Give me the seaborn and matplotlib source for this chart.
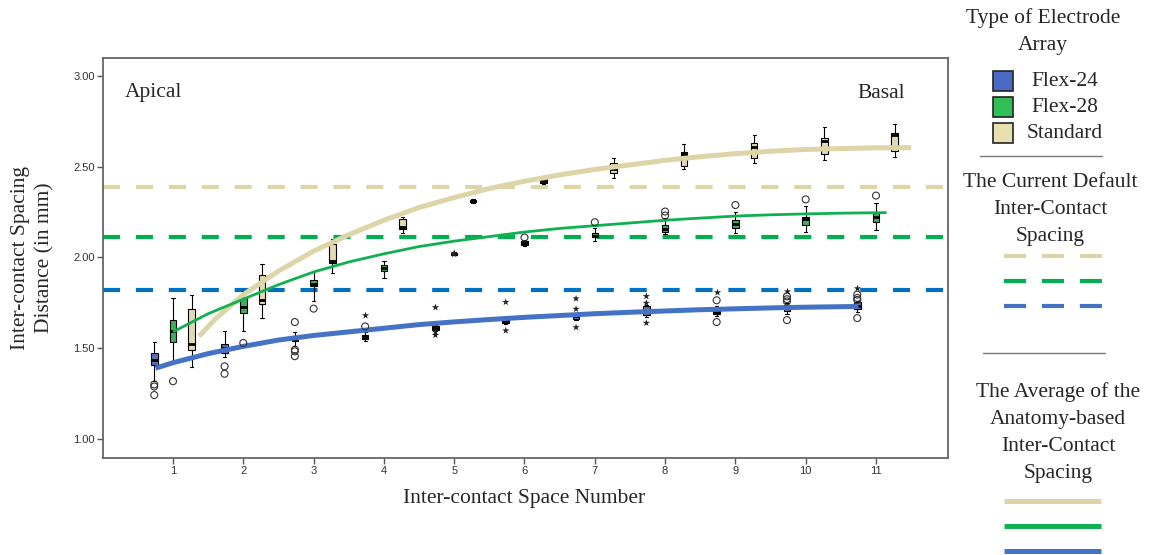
import numpy as np
import pandas as pd
import matplotlib
matplotlib.use("Agg")
import matplotlib.pyplot as plt
import seaborn as sns
from matplotlib.lines import Line2D
from matplotlib.patches import Rectangle

# ---------------- data ----------------
categories = [1, 2, 3, 4, 5, 6, 7, 8, 9, 10, 11]
types = ["Flex-24", "Flex-28", "Standard"]

# box summaries per space: (low whisker, Q1, median, Q3, high whisker)
flex24_box = [
    (1.32, 1.41, 1.437, 1.474, 1.535),
    (1.45, 1.474, 1.50, 1.524, 1.597),
    (1.51, 1.538, 1.547, 1.566, 1.588),
    (1.54, 1.55, 1.56, 1.575, 1.59),
    (1.597, 1.603, 1.612, 1.625, 1.63),
    (1.635, 1.639, 1.648, 1.657, 1.662),
    (1.655, 1.663, 1.675, 1.685, 1.695),
    (1.67, 1.685, 1.70, 1.731, 1.74),
    (1.68, 1.688, 1.70, 1.721, 1.73),
    (1.69, 1.703, 1.72, 1.74, 1.75),
    (1.70, 1.718, 1.735, 1.754, 1.76),
]
flex28_box = [
    (1.43, 1.535, 1.597, 1.657, 1.776),
    (1.593, 1.694, 1.725, 1.776, 1.813),
    (1.758, 1.841, 1.853, 1.877, 1.923),
    (1.886, 1.926, 1.941, 1.959, 1.981),
    (2.012, 2.016, 2.02, 2.024, 2.028),
    (2.065, 2.069, 2.078, 2.088, 2.095),
    (2.09, 2.11, 2.12, 2.134, 2.16),
    (2.128, 2.143, 2.157, 2.179, 2.216),
    (2.133, 2.161, 2.185, 2.207, 2.253),
    (2.139, 2.179, 2.21, 2.225, 2.286),
    (2.152, 2.194, 2.225, 2.243, 2.298),
]
standard_box = [
    (1.397, 1.492, 1.524, 1.718, 1.795),
    (1.667, 1.743, 1.764, 1.904, 1.965),
    (1.914, 1.969, 1.978, 2.073, 2.102),
    (2.133, 2.157, 2.17, 2.212, 2.225),
    (2.30, 2.304, 2.31, 2.317, 2.32),
    (2.405, 2.408, 2.42, 2.436, 2.44),
    (2.44, 2.463, 2.49, 2.518, 2.55),
    (2.487, 2.505, 2.57, 2.579, 2.623),
    (2.518, 2.546, 2.61, 2.628, 2.677),
    (2.536, 2.568, 2.64, 2.659, 2.718),
    (2.555, 2.586, 2.677, 2.687, 2.738),
]

# outliers (open circles) and extreme values (stars)
circle_space = [1, 1, 1, 2, 2, 3, 3, 3, 3, 4, 9, 9, 10, 10, 10, 10, 11, 11, 11, 11,
                1, 2, 3, 6, 7, 8, 8, 9, 10, 11]
circle_type = ["Flex-24"] * 20 + ["Flex-28"] * 10
circle_value = [1.30, 1.289, 1.242, 1.40, 1.359, 1.644, 1.492, 1.483, 1.456, 1.62,
                1.764, 1.644, 1.786, 1.77, 1.758, 1.655, 1.795, 1.777, 1.766, 1.666,
                1.318, 1.529, 1.718, 2.11, 2.194, 2.253, 2.231, 2.289, 2.32, 2.341]

star_space = [4, 5, 5, 5, 6, 6, 7, 7, 7, 8, 8, 8, 9, 10, 11, 5, 5]
star_type = ["Flex-24"] * 15 + ["Flex-28"] * 2
star_value = [1.685, 1.725, 1.59, 1.572, 1.754, 1.597, 1.773, 1.716, 1.615,
              1.786, 1.749, 1.639, 1.81, 1.817, 1.83, 2.024, 2.018]

# current default inter-contact spacing
default_spacing = {"Standard": 2.39, "Flex-28": 2.11, "Flex-24": 1.82}

# average anatomy-based inter-contact spacing
std_curve_x = [1.37, 1.6, 2.0, 2.5, 3.0, 3.5, 4.0, 4.5, 5.0, 5.5, 6.0, 6.5, 7.0, 7.5,
               8.0, 8.5, 9.0, 9.5, 10.0, 10.5, 11.0, 11.5]
std_curve_y = [1.566, 1.66, 1.795, 1.925, 2.035, 2.125, 2.205, 2.275, 2.33, 2.38, 2.42,
               2.455, 2.485, 2.51, 2.535, 2.555, 2.572, 2.585, 2.595, 2.60, 2.604, 2.605]
f28_curve_x = [1.0, 1.5, 2.0, 2.5, 3.0, 3.5, 4.0, 4.5, 5.0, 5.5, 6.0, 6.5, 7.0, 7.5,
               8.0, 8.5, 9.0, 9.5, 10.0, 10.5, 11.15]
f28_curve_y = [1.59, 1.69, 1.77, 1.85, 1.92, 1.975, 2.02, 2.06, 2.09, 2.115, 2.14, 2.16,
               2.175, 2.19, 2.205, 2.217, 2.228, 2.235, 2.24, 2.244, 2.247]
f24_curve_x = [0.75, 1.0, 1.5, 2.0, 2.5, 3.0, 3.5, 4.0, 4.5, 5.0, 5.5, 6.0, 6.5, 7.0,
               7.5, 8.0, 8.5, 9.0, 9.5, 10.0, 10.75]
f24_curve_y = [1.39, 1.42, 1.47, 1.51, 1.545, 1.57, 1.59, 1.61, 1.63, 1.645, 1.658, 1.67,
               1.68, 1.69, 1.698, 1.705, 1.712, 1.717, 1.722, 1.726, 1.73]

# ---------------- styles ----------------
box_colors = {"Flex-24": "#4a6bc3", "Flex-28": "#2fbf55", "Standard": "#e8dfae"}
dash_colors = {"Standard": "#ddd5a8", "Flex-28": "#00b050", "Flex-24": "#0070c0"}
curve_colors = {"Standard": "#ddd5a8", "Flex-28": "#10b050", "Flex-24": "#4472c4"}
legend_dash_colors = {"Standard": "#ddd5a8", "Flex-28": "#00b050", "Flex-24": "#4472c4"}

sns.set_theme(style="white")
plt.rcParams["font.family"] = ["Liberation Serif", "DejaVu Serif"]

W, H = 1157, 555
FS = 15.5
LS = 1.55
fig = plt.figure(figsize=(W / 100, H / 100), dpi=100)
ax = fig.add_axes([102.7 / W, 1 - 458 / H, (947.7 - 102.7) / W, 400 / H])


def fx(x):
    return x / W


def fy(y):
    return 1 - y / H


# dashed default-spacing lines
for t in ["Standard", "Flex-28", "Flex-24"]:
    ax.axhline(default_spacing[t], color=dash_colors[t], lw=3.0,
               dashes=(4.1, 3.8), zorder=1)

# boxes
rows = []
for t, boxes in zip(types, [flex24_box, flex28_box, standard_box]):
    for c, vals in zip(categories, boxes):
        for v in vals:
            rows.append((c, t, v))
box_df = pd.DataFrame(rows, columns=["space", "type", "dist"])

sns.boxplot(data=box_df, x="space", y="dist", hue="type", hue_order=types,
            palette=box_colors, native_scale=True, width=0.8, gap=0.65,
            whis=(0, 100), showfliers=False, linecolor="black", linewidth=0.8,
            medianprops={"linewidth": 2.0, "color": "black"},
            legend=False, ax=ax, zorder=2)

# curves
for t, xs, ys, lw in [("Standard", std_curve_x, std_curve_y, 3.6),
                      ("Flex-28", f28_curve_x, f28_curve_y, 2.0),
                      ("Flex-24", f24_curve_x, f24_curve_y, 3.6)]:
    sns.lineplot(x=xs, y=ys, color=curve_colors[t], lw=lw, ax=ax,
                 solid_capstyle="butt", solid_joinstyle="round", zorder=3, legend=False)

# outliers
circ_df = pd.DataFrame({"space": circle_space, "type": circle_type, "dist": circle_value})
n0 = len(ax.collections)
sns.stripplot(data=circ_df, x="space", y="dist", hue="type", hue_order=types,
              native_scale=True, dodge=True, jitter=False, marker="o", size=5,
              linewidth=0.8, edgecolor="#333333", palette=box_colors,
              legend=False, ax=ax, zorder=4)
for coll in ax.collections[n0:]:
    coll.set_facecolors("none")
    coll.set_edgecolors("#333333")

star_df = pd.DataFrame({"space": star_space, "type": star_type, "dist": star_value})
sns.stripplot(data=star_df, x="space", y="dist", hue="type", hue_order=types,
              native_scale=True, dodge=True, jitter=False, marker="*", size=5.5,
              linewidth=0, palette={t: "#222222" for t in types},
              legend=False, ax=ax, zorder=4)

# axes formatting
ax.set_xlim(0, 12.02)
ax.set_ylim(0.895, 3.099)
ax.set_xticks(categories)
ax.set_xticklabels([str(c) for c in categories])
ax.set_yticks([1.0, 1.5, 2.0, 2.5, 3.0])
ax.set_yticklabels(["1.00", "1.50", "2.00", "2.50", "3.00"])
ax.tick_params(axis="both", which="major", bottom=True, left=True, length=4,
               width=1, color="#555555", labelsize=8, labelcolor="#333333", pad=1.5,
               direction="out")
for lab in ax.get_xticklabels() + ax.get_yticklabels():
    lab.set_fontfamily(["Liberation Sans", "DejaVu Sans"])
for s in ax.spines.values():
    s.set_color("#666666")
    s.set_linewidth(1.3)
ax.set_xlabel("")
ax.set_ylabel("")

ax.text((125 - 102.7) / 845, (458 - 93) / 400, "Apical", transform=ax.transAxes,
        ha="left", va="center", fontsize=FS)
ax.text((905 - 102.7) / 845, (458 - 93) / 400, "Basal", transform=ax.transAxes,
        ha="right", va="center", fontsize=FS)

fig.text(fx(524.5), fy(498), "Inter-contact Space Number", ha="center", va="center",
         fontsize=FS)
fig.text(fx(33), fy(258), "Inter-contact Spacing\nDistance (in mm)", ha="center",
         va="center", rotation=90, fontsize=FS, linespacing=1.35)

# ---------------- custom legend ----------------
fig.text(fx(1043), fy(31.5), "Type of Electrode\nArray", ha="center", va="center",
         fontsize=FS, linespacing=LS)
for t, yc in zip(types, [81, 107, 133]):
    fig.patches.append(Rectangle((fx(993), fy(yc + 10)), 20 / W, 20 / H,
                                 transform=fig.transFigure, facecolor=box_colors[t],
                                 edgecolor="#222222", lw=1.2))
    fig.text(fx(1065), fy(yc), t, ha="center", va="center", fontsize=FS)

fig.lines.append(Line2D([fx(980), fx(1102)], [fy(155.5), fy(155.5)],
                        transform=fig.transFigure, color="#777777", lw=1))
fig.text(fx(1050), fy(209.5), "The Current Default\nInter-Contact\nSpacing",
         ha="center", va="center", fontsize=FS, linespacing=LS)
for t, yc in zip(["Standard", "Flex-28", "Flex-24"], [256, 281, 306]):
    fig.lines.append(Line2D([fx(1004), fx(1102)], [fy(yc), fy(yc)],
                            transform=fig.transFigure, color=legend_dash_colors[t],
                            lw=3.0, dashes=(5.3, 3.8)))

fig.lines.append(Line2D([fx(983), fx(1105)], [fy(352.5), fy(352.5)],
                        transform=fig.transFigure, color="#777777", lw=1))
fig.text(fx(1058), fy(432.5), "The Average of the\nAnatomy-based\nInter-Contact\nSpacing",
         ha="center", va="center", fontsize=FS, linespacing=LS)
for t, yc in zip(["Standard", "Flex-28", "Flex-24"], [501, 526, 550.5]):
    fig.lines.append(Line2D([fx(1004), fx(1101)], [fy(yc), fy(yc)],
                            transform=fig.transFigure, color=curve_colors[t],
                            lw=3.6, solid_capstyle="butt"))

fig.savefig("out.png", dpi=100)
